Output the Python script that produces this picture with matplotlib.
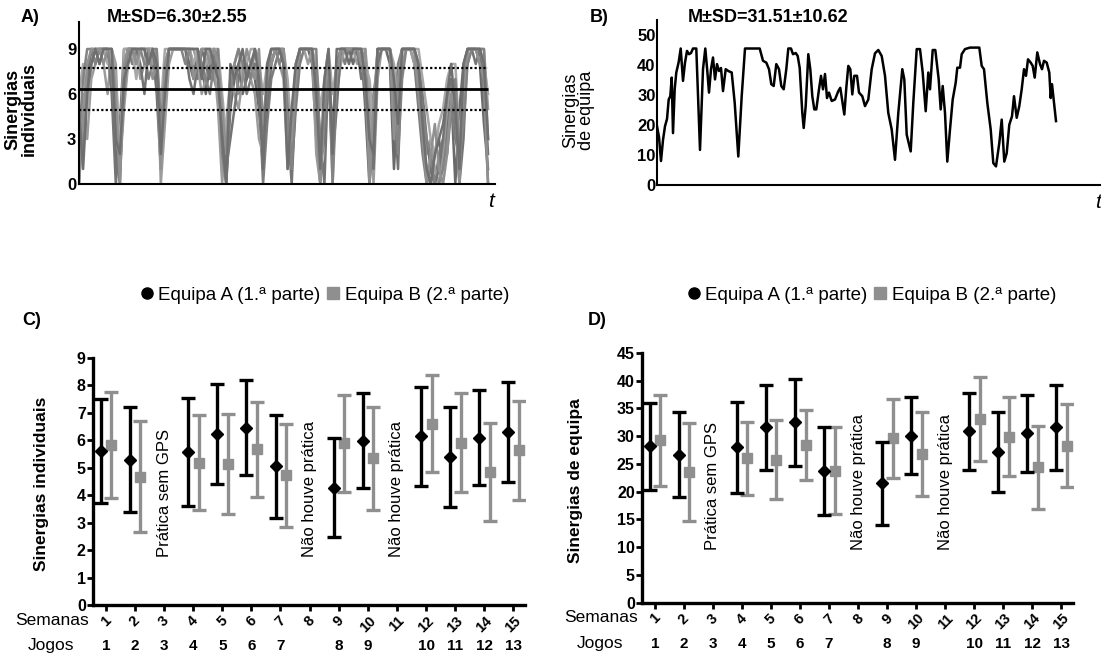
"""
Synergy figure: individual / team synergies over time (A, B) and
per-week mean +- SD for both teams (C, D).

Output: out.png (1101 x 658 px)
"""
import matplotlib
matplotlib.use("Agg")
import matplotlib.pyplot as plt
from matplotlib.lines import Line2D
import numpy as np

plt.rcParams["font.family"] = ["Liberation Sans", "DejaVu Sans"]

# ---------------------------------------------------------------- panel A
# individual synergies of several players (0-9)
IND_1 = [1, 3, 6, 8, 9, 9, 9, 9, 8, 2, 0, 7, 9, 9, 8, 9, 9, 9, 9, 6, 1, 8, 9, 9, 9, 9, 9, 8, 7, 9, 8, 6, 8, 9, 8, 3, 0,
         5, 7, 8, 6, 7, 8, 7, 5, 1, 6, 8, 9, 9, 8, 3, 2, 7, 9, 9, 9, 8, 3, 0, 6, 8, 1, 7, 9, 9, 9, 8, 9, 9, 5, 0, 3, 9,
         9, 9, 8, 1, 6, 9, 9, 9, 9, 6, 3, 1, 0, 2, 3, 1, 4, 6, 0, 5, 8, 9, 9, 9, 8, 4, 1]
IND_2 = [0, 5, 7, 9, 9, 8, 9, 9, 9, 5, 3, 8, 9, 8, 9, 9, 9, 7, 8, 8, 3, 6, 9, 9, 9, 9, 9, 9, 8, 7, 9, 9, 9, 7, 6, 1, 2,
         6, 8, 7, 8, 6, 7, 8, 6, 0, 4, 7, 8, 9, 9, 6, 1, 5, 8, 9, 9, 9, 6, 1, 3, 7, 4, 8, 9, 8, 9, 9, 9, 8, 7, 2, 6, 8,
         9, 9, 9, 4, 8, 9, 9, 9, 8, 5, 2, 0, 1, 0, 2, 3, 2, 5, 3, 2, 7, 9, 9, 9, 9, 6, 0]
IND_3 = [2, 6, 3, 7, 8, 9, 8, 6, 9, 8, 1, 5, 8, 9, 9, 7, 8, 9, 8, 9, 0, 4, 8, 9, 9, 9, 9, 9, 9, 8, 6, 7, 9, 8, 5, 0, 4,
         7, 6, 5, 7, 8, 7, 6, 3, 2, 7, 9, 9, 8, 7, 1, 4, 8, 9, 9, 8, 9, 2, 0, 5, 9, 0, 6, 8, 9, 9, 9, 8, 9, 9, 6, 0, 7,
         9, 9, 9, 7, 3, 8, 9, 9, 8, 7, 4, 2, 3, 1, 0, 2, 5, 7, 6, 1, 6, 8, 9, 9, 9, 9, 5]
IND_4 = [4, 2, 7, 9, 8, 9, 9, 9, 6, 0, 4, 9, 9, 9, 9, 8, 6, 9, 9, 7, 2, 7, 9, 9, 9, 9, 9, 7, 6, 8, 9, 8, 7, 9, 7, 4, 1,
         3, 5, 7, 8, 7, 8, 8, 7, 3, 5, 8, 9, 9, 8, 4, 0, 6, 9, 9, 9, 9, 7, 3, 0, 8, 2, 5, 9, 9, 9, 9, 9, 7, 8, 3, 1, 8,
         9, 9, 9, 5, 1, 9, 9, 9, 9, 8, 6, 3, 1, 0, 1, 3, 6, 7, 4, 0, 3, 9, 9, 8, 9, 7, 2]
IND_5 = [6, 8, 5, 8, 9, 9, 9, 8, 9, 7, 2, 9, 9, 9, 7, 9, 9, 9, 9, 8, 5, 9, 9, 9, 9, 9, 9, 9, 8, 9, 7, 8, 9, 9, 9, 6, 3,
         7, 8, 9, 7, 8, 9, 9, 8, 6, 8, 9, 9, 9, 9, 7, 3, 8, 9, 9, 9, 9, 8, 5, 7, 9, 6, 8, 9, 9, 9, 9, 9, 9, 8, 7, 4, 9,
         9, 9, 9, 8, 5, 9, 9, 9, 9, 9, 7, 5, 3, 2, 4, 5, 7, 8, 8, 3, 6, 9, 9, 9, 9, 8, 6]
IND_6 = [3, 7, 9, 9, 8, 9, 9, 9, 7, 4, 1, 6, 9, 9, 9, 9, 8, 8, 9, 9, 4, 7, 9, 9, 9, 9, 8, 9, 9, 9, 8, 7, 6, 8, 9, 2, 0,
         6, 8, 9, 8, 8, 7, 9, 8, 2, 7, 9, 9, 8, 9, 5, 1, 6, 9, 9, 9, 9, 9, 2, 4, 8, 0, 8, 9, 9, 9, 9, 9, 9, 6, 1, 4, 9,
         9, 9, 9, 6, 2, 7, 9, 9, 9, 7, 5, 3, 2, 0, 0, 1, 3, 5, 7, 2, 4, 8, 9, 9, 9, 9, 3]
IND_7 = [0, 4, 8, 9, 9, 9, 8, 9, 9, 6, 0, 8, 9, 9, 8, 9, 9, 9, 7, 8, 1, 8, 9, 9, 9, 9, 9, 9, 7, 8, 9, 9, 8, 9, 8, 5, 2,
         7, 8, 6, 7, 9, 8, 7, 9, 4, 7, 8, 9, 9, 9, 2, 3, 7, 9, 9, 9, 9, 4, 0, 6, 8, 3, 7, 9, 9, 9, 9, 9, 8, 9, 0, 5, 9,
         9, 9, 9, 3, 7, 9, 9, 9, 9, 6, 3, 0, 2, 4, 1, 0, 2, 6, 5, 0, 7, 9, 9, 9, 8, 7, 0]
IND_8 = [5, 1, 6, 8, 9, 8, 9, 9, 9, 3, 2, 7, 8, 9, 9, 9, 9, 8, 9, 8, 2, 6, 9, 9, 9, 9, 9, 9, 9, 9, 7, 9, 9, 8, 7, 3, 0,
         8, 7, 8, 9, 7, 8, 9, 7, 1, 8, 9, 9, 9, 8, 1, 5, 8, 9, 9, 9, 9, 6, 1, 7, 9, 2, 9, 9, 9, 8, 9, 9, 9, 7, 3, 2, 9,
         9, 9, 9, 7, 4, 9, 9, 9, 9, 8, 4, 1, 0, 2, 3, 4, 6, 8, 5, 1, 8, 9, 9, 9, 9, 8, 3]
IND_SERIES = [IND_1, IND_2, IND_3, IND_4, IND_5, IND_6, IND_7, IND_8]
IND_COLORS = ["#6a6a6a", "#7d7d7d", "#9c9c9c", "#747474", "#a8a8a8", "#838383", "#909090", "#6f6f6f"]
IND_MEAN = 6.30
IND_BAND = (4.93, 7.73)

# ---------------------------------------------------------------- panel B
TEAM_T = [0, 2, 4, 6, 8, 10, 11.7, 13.3, 14.7, 16, 17.7, 19.3, 21.7, 23.7, 26, 28, 30, 32, 34, 36, 39.3, 43, 46,
          48.3, 50.3, 52, 54, 56, 58, 60, 62, 64, 66, 68.7, 71.3, 74.7, 77.7, 81.3, 84.7, 88, 102.7, 106, 109.3,
          112, 114.3, 116.7, 119.3, 122, 124.3, 126.7, 129.3, 131.3, 134, 136, 138.7, 140.7, 142.7, 145.3, 146.7,
          148.7, 151.3, 153.3, 155.3, 157.3, 159.3, 162, 164, 166, 168, 170, 172, 174.7, 178, 181.3, 183.3, 185.3,
          187.3, 189.3, 191.3, 193.3, 195.3, 197.3, 200, 202, 205.3, 208, 211.3, 214.7, 218, 221.3, 224.7, 228,
          231.3, 234.7, 238, 241.3, 245.3, 247.3, 249.7, 253.7, 256.3, 259.7, 263, 265.7, 268.7, 271.3, 273,
          275.7, 278.3, 281.7, 283.7, 285.7, 288, 290.3, 293, 295.7, 298.7, 300.3, 303, 304.7, 308, 313, 322.3,
          324.7, 327, 330.3, 333.7, 336.3, 339, 342.3, 344.7, 347.3, 349.7, 352.3, 355, 357, 359.7, 362.3, 364.7,
          367, 369, 371, 373.7, 375.7, 377.7, 380.3, 383, 385, 387, 389.7, 392.3, 393.7, 395, 396.3, 399]
TEAM_V = [19.6, 16, 8, 15, 19.6, 22, 28.5, 29.6, 35.8, 17.3, 32, 37.5, 41, 45.5, 34.7, 40.8, 44.7, 43.6, 44, 45.5,
          45.5, 11.7, 38.6, 45.5, 38, 30.8, 38.6, 42.5, 35.2, 40.3, 38, 39, 31.3, 38.6, 38, 37.5, 27.4, 9.5, 29.6,
          45.5, 45.5, 41.4, 40.8, 38.6, 33.6, 33, 40.3, 38.6, 33, 31.9, 38.6, 45.5, 45.5, 43.6, 44, 43, 39, 24, 19,
          26.3, 43.6, 38.6, 29.6, 25.2, 25.2, 31.9, 36.4, 31.9, 37, 29, 30.8, 28, 28.5, 31.3, 32.4, 28, 23.5, 32.4,
          39.7, 38.6, 30.2, 36.4, 36.4, 30.8, 29.6, 26.3, 28.5, 38.6, 43.9, 45, 43, 36.4, 24, 18.5, 8.4, 24, 38.6,
          35.2, 16.8, 11.2, 27.4, 45.3, 45.3, 37.5, 24.6, 37.5, 31.9, 45, 45, 35.2, 25.2, 33, 24, 7.8, 18.5, 28.5,
          34.1, 39.1, 39.1, 43.6, 45.3, 45.8, 45.8, 39.7, 38.6, 27.4, 18.5, 7.3, 6.2, 14, 21.8, 7.8, 10.6, 20.1,
          22.9, 29.6, 22.4, 26.3, 31.9, 38.6, 36.4, 41.9, 40.8, 39.7, 35.8, 44.2, 40.3, 38.6, 41.4, 40.8, 37.5, 29,
          33.6, 29.6, 21.3]

# ------------------------------------------------------------ panels C, D
WEEKS = list(range(1, 16))
GAMES = ["1", "2", "3", "4", "5", "6", "7", "", "8", "9", "", "10", "11", "12", "13"]
PLAYED = [1, 2, 4, 5, 6, 7, 9, 10, 12, 13, 14, 15]

C_A_MEAN = [5.61, 5.30, 5.58, 6.23, 6.46, 5.06, 4.28, 5.98, 6.15, 5.40, 6.09, 6.29]
C_A_SD = [1.88, 1.90, 1.98, 1.82, 1.74, 1.88, 1.81, 1.73, 1.80, 1.83, 1.73, 1.82]
C_B_MEAN = [5.83, 4.67, 5.18, 5.13, 5.68, 4.73, 5.89, 5.34, 6.61, 5.92, 4.85, 5.64]
C_B_SD = [1.93, 2.02, 1.73, 1.82, 1.73, 1.87, 1.76, 1.89, 1.78, 1.80, 1.79, 1.80]

D_A_MEAN = [28.2, 26.7, 28.0, 31.6, 32.5, 23.7, 21.5, 30.1, 30.9, 27.1, 30.5, 31.6]
D_A_SD = [7.8, 7.7, 8.2, 7.6, 7.9, 7.9, 7.5, 6.9, 6.9, 7.2, 7.0, 7.6]
D_B_MEAN = [29.3, 23.5, 26.0, 25.8, 28.5, 23.8, 29.6, 26.8, 33.1, 29.9, 24.4, 28.3]
D_B_SD = [8.2, 8.8, 6.6, 7.1, 6.3, 7.8, 7.2, 7.6, 7.6, 7.1, 7.5, 7.5]

NOTES = [(3, "Prática sem GPS"), (8, "Não houve prática"), (11, "Não houve prática")]

W, H = 1101, 658


def _box(left, top, right, bottom):
    """pixel box -> figure fraction rect"""
    return [left / W, 1 - bottom / H, (right - left) / W, (bottom - top) / H]


def _plot_timeseries(fig):
    # A
    ax = fig.add_axes(_box(79, 22, 495, 184))
    for s, c in zip(IND_SERIES, IND_COLORS):
        ax.plot(np.arange(len(s)), s, color=c, lw=1.8)
    n = len(IND_1) - 1
    ax.hlines(IND_MEAN, 0, n, color="black", lw=2)
    ax.hlines(IND_BAND, 0, n, color="black", lw=1.6, linestyles=(0, (1, 1)))
    ax.set_xlim(0, n * 1.017)
    ax.set_ylim(0, 10.8)
    ax.set_yticks([0, 3, 6, 9])
    ax.set_xticks([])
    for lab in ax.get_yticklabels():
        lab.set_fontweight("bold")
    ax.tick_params(axis="y", labelsize=12, length=0, pad=2)
    ax.set_ylabel("Sinergias\nindividuais", fontsize=13, fontweight="bold", linespacing=0.9)
    ax.yaxis.set_label_coords(-0.1, 0.46)
    ax.text(0.99, -0.05, "t", transform=ax.transAxes, ha="center", va="top", fontsize=15, style="italic")
    for sp in ("top", "right"):
        ax.spines[sp].set_visible(False)
    for sp in ("left", "bottom"):
        ax.spines[sp].set_linewidth(1.5)
    fig.text(21 / W, 1 - 17 / H, "A)", fontsize=13, fontweight="bold", va="center")
    fig.text(107 / W, 1 - 17 / H, f"M±SD={IND_MEAN:.2f}±2.55", fontsize=13, fontweight="bold", va="center")

    # B
    ax = fig.add_axes(_box(657, 20, 1101, 185))
    ax.plot(TEAM_T, TEAM_V, color="black", lw=1.8)
    ax.set_xlim(0, 444)
    ax.set_ylim(0, 55)
    ax.set_yticks([0, 10, 20, 30, 40, 50])
    ax.set_xticks([])
    for lab in ax.get_yticklabels():
        lab.set_fontweight("bold")
    ax.tick_params(axis="y", labelsize=12, length=0, pad=1)
    ax.set_ylabel("Sinergias\nde equipa", fontsize=13, linespacing=0.9)
    ax.yaxis.set_label_coords(-0.14, 0.455)
    ax.text(0.993, -0.05, "t", transform=ax.transAxes, ha="center", va="top", fontsize=15, style="italic")
    for sp in ("top", "right"):
        ax.spines[sp].set_visible(False)
    for sp in ("left", "bottom"):
        ax.spines[sp].set_linewidth(1.5)
    fig.text(590 / W, 1 - 17 / H, "B)", fontsize=13, fontweight="bold", va="center")
    fig.text(688 / W, 1 - 17 / H, "M±SD=31.51±10.62", fontsize=13, fontweight="bold", va="center")


def _plot_weekly(fig, rect, a_mean, a_sd, b_mean, b_sd, ymax, ystep, ylabel, label_x,
                 note_y, tag, tag_x, legend_x):
    ax = fig.add_axes(rect)
    xa = np.array(PLAYED, dtype=float) - 0.17
    xb = np.array(PLAYED, dtype=float) + 0.19
    ax.errorbar(xb, b_mean, yerr=b_sd, fmt="s", color="#8f8f8f", ms=7, elinewidth=2.4,
                capsize=5, capthick=2.4, zorder=2)
    ax.errorbar(xa, a_mean, yerr=a_sd, fmt="D", color="black", ms=6.5, elinewidth=2.4,
                capsize=5, capthick=2.4, zorder=3)

    ax.set_xlim(0.55, 15.4)
    ax.set_ylim(0, ymax)
    ax.set_yticks(np.arange(0, ymax + 0.1, ystep))
    ax.set_xticks(WEEKS)
    ax.set_xticklabels([str(w) for w in WEEKS], rotation=45, ha="center", fontweight="bold", fontsize=10.5)
    for lab in ax.get_yticklabels():
        lab.set_fontweight("bold")
    ax.tick_params(axis="y", labelsize=11.5, length=4, width=2, pad=1)
    ax.tick_params(axis="x", length=4, width=2, pad=2)
    for sp in ("top", "right"):
        ax.spines[sp].set_visible(False)
    for sp in ("left", "bottom"):
        ax.spines[sp].set_linewidth(2.4)

    ax.set_ylabel(ylabel, fontsize=12.5, fontweight="bold")
    ax.yaxis.set_label_coords(label_x, 0.49)

    for w, g in zip(WEEKS, GAMES):
        ax.annotate(g, xy=(w, 0), xycoords=("data", "axes fraction"), xytext=(0, -29.5),
                    textcoords="offset points", ha="center", va="center", fontsize=11, fontweight="bold")
    ax.annotate("Semanas", xy=(0, 0), xycoords="axes fraction", xytext=(-3, -11),
                textcoords="offset points", ha="right", va="center", fontsize=12.5)
    ax.annotate("Jogos", xy=(0, 0), xycoords="axes fraction", xytext=(-13, -29.5),
                textcoords="offset points", ha="right", va="center", fontsize=12.5)

    for w, txt in NOTES:
        ax.text(w, note_y, txt, rotation=90, ha="center", va="bottom", fontsize=12)

    handles = [
        Line2D([], [], marker="o", color="black", ls="none", ms=8),
        Line2D([], [], marker="s", color="#8f8f8f", ls="none", ms=8),
    ]
    fig.legend(handles, ["Equipa A (1.ª parte)", "Equipa B (2.ª parte)"], loc="center",
               bbox_to_anchor=(legend_x / W, 1 - 295 / H), ncol=2, frameon=False, fontsize=13.5,
               handlelength=0.6, handletextpad=0.3, columnspacing=0.4)
    fig.text(tag_x / W, 1 - 320 / H, tag, fontsize=13, fontweight="bold", va="center")
    return ax


def main():
    fig = plt.figure(figsize=(W / 100, H / 100), dpi=100)
    _plot_timeseries(fig)
    _plot_weekly(fig, _box(92.7, 358, 525, 605), C_A_MEAN, C_A_SD, C_B_MEAN, C_B_SD,
                 9, 1, "Sinergias individuais", -0.1, 1.75, "C)", 22, 325)
    _plot_weekly(fig, _box(641.7, 353, 1073, 602.7), D_A_MEAN, D_A_SD, D_B_MEAN, D_B_SD,
                 45, 5, "Sinergias de equipa", -0.137, 9.5, "D)", 588, 872)
    fig.savefig("out.png", dpi=100)
    plt.close(fig)


if __name__ == "__main__":
    main()
